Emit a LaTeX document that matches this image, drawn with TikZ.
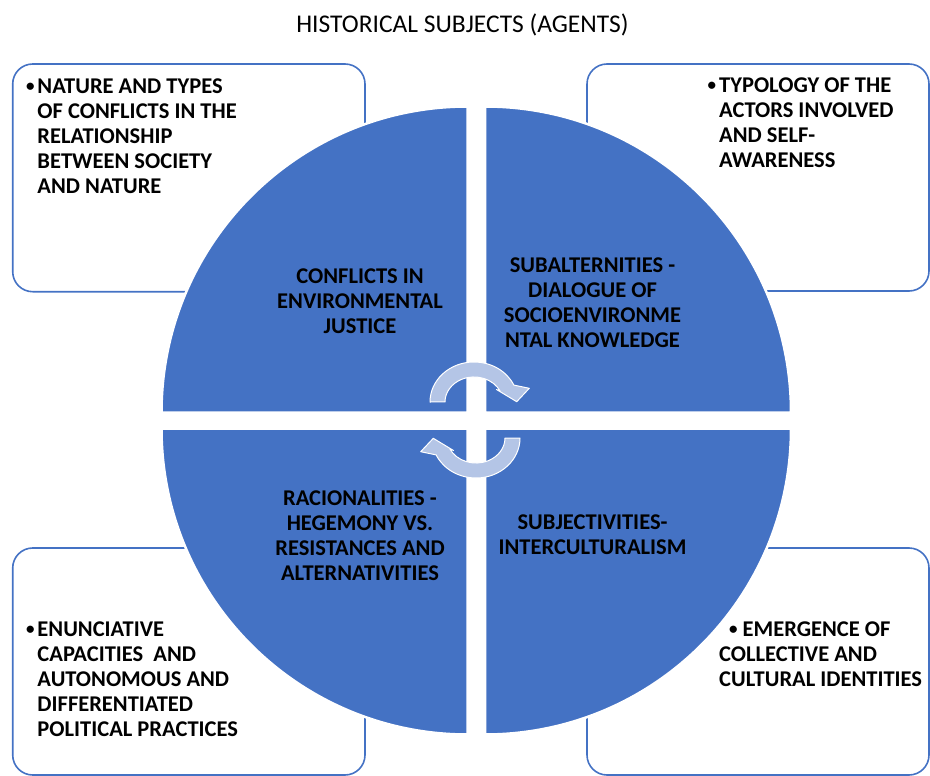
\documentclass[tikz,border=0pt]{standalone}
\usepackage{fontspec}
\setmainfont{Carlito}
\definecolor{accent}{HTML}{4472C4}
\definecolor{arrowfill}{HTML}{B4C5E6}
\newcommand{\dotmark}{\raisebox{1.6pt}{\fontsize{17}{17}\selectfont\textbullet}}
\begin{document}
\begin{tikzpicture}[x=1pt,y=-1pt,
  panel/.style={draw=accent, line width=1.6pt, rounded corners=20pt},
  quarter/.style={fill=accent, draw=white, line width=2.5pt, line join=miter},
  note/.style={anchor=base west, align=left, inner sep=0pt,
    font=\fontsize{22.5}{25}\selectfont\bfseries},
  qlabel/.style={anchor=base, align=center, inner sep=0pt,
    font=\fontsize{22.5}{25}\selectfont\bfseries},
  cycarrow/.pic={
    \draw[fill=arrowfill, draw=white, line width=1pt, line join=round]
      (-44,0) arc[start angle=180, end angle=335, x radius=44, y radius=40]
      -- (55.3,-13.7) -- (42.7,-0.3) -- (22.5,-12.5)
      -- (26.3,-10.6) arc[start angle=335, end angle=180, x radius=29, y radius=25]
      -- cycle;
  }]
\useasboundingbox (0,0) rectangle (930,776);

% heading
\node[inner sep=0pt] (title) at (462.5,25)
  {\fontsize{25.5}{28}\selectfont HISTORICAL SUBJECTS (AGENTS)};

% corner panels
\draw[panel] (12.7,64) rectangle (365,291.7);
\draw[panel] (587,64) rectangle (929,291);
\draw[panel] (12.7,548) rectangle (365,775);
\draw[panel] (587,548) rectangle (929,775);

% four quarters of the disc
\draw[quarter] (467.5,412.5) -- (161.5,412.5)
  arc[start angle=180, end angle=270, radius=306] -- cycle;
\draw[quarter] (485,412.5) -- (485,106.5)
  arc[start angle=270, end angle=360, radius=306] -- cycle;
\draw[quarter] (485,428.5) -- (791,428.5)
  arc[start angle=0, end angle=90, radius=306] -- cycle;
\draw[quarter] (467.5,428.5) -- (467.5,734.5)
  arc[start angle=90, end angle=180, radius=306] -- cycle;

% quarter labels (anchored on the baseline of the last line)
\node[qlabel] (qtl) at (360,333.8)
  {CONFLICTS IN\\ENVIRONMENTAL\\JUSTICE};
\node[qlabel] (qtr) at (592.5,347)
  {SUBALTERNITIES -\\DIALOGUE OF\\SOCIOENVIRONME\\NTAL KNOWLEDGE};
\node[qlabel] (qbl) at (360,580)
  {RACIONALITIES -\\HEGEMONY VS.\\RESISTANCES AND\\ALTERNATIVITIES};
\node[qlabel] (qbr) at (592.5,554.5)
  {SUBJECTIVITIES-\\INTERCULTURALISM};

% panel notes (anchored on the baseline of the last line)
\node[note] (ntl) at (37.3,193.2)
  {\llap{\dotmark\hspace{3pt}}NATURE AND TYPES\\OF CONFLICTS IN THE\\RELATIONSHIP\\BETWEEN SOCIETY\\AND NATURE};
\node[note] (ntr) at (719,167.5)
  {\llap{\dotmark\hspace{3pt}}TYPOLOGY OF THE\\ACTORS INVOLVED\\AND SELF-\\AWARENESS};
\node[note] (nbl) at (37.3,736.5)
  {\llap{\dotmark\hspace{3pt}}ENUNCIATIVE\\CAPACITIES\ \ AND\\AUTONOMOUS AND\\DIFFERENTIATED\\POLITICAL PRACTICES};
\node[note] (nbr) at (719,686.5)
  {\hspace*{10pt}\dotmark\hspace{5pt}EMERGENCE OF\\COLLECTIVE AND\\CULTURAL IDENTITIES};

% cycle arrows in the middle
\pic at (474,402) {cycarrow};
\pic[rotate=180] at (476,438) {cycarrow};
\end{tikzpicture}
\end{document}
